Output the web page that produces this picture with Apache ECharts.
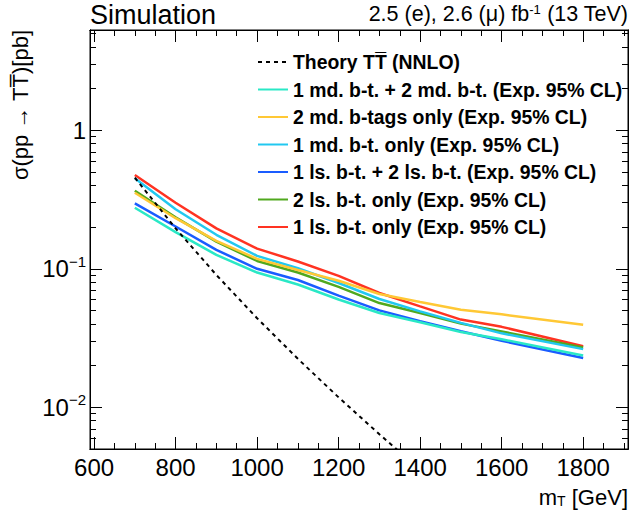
<!DOCTYPE html>
<html><head><meta charset="utf-8">
<script src="https://cdn.jsdelivr.net/npm/echarts@6/dist/echarts.min.js"></script>
<style>html,body{margin:0;padding:0;background:#fff}#c{width:630px;height:520px}</style>
</head><body><div id="c"></div>
<script>
// ---- data ----
const masses = [700, 800, 900, 1000, 1100, 1200, 1300, 1400, 1500, 1600, 1800];
const theoryMasses = [700, 800, 900, 1000, 1100, 1200, 1300, 1400, 1500, 1600, 1700, 1800];
const theory = [0.455, 0.196, 0.0903, 0.0440, 0.0224, 0.0118, 0.00639, 0.00354, 0.00200, 0.00115, 0.000666, 0.000391];
const md12 = [0.276, 0.184, 0.126, 0.094, 0.077, 0.060, 0.0480, 0.0411, 0.0350, 0.0310, 0.0237];
const md2  = [0.354, 0.232, 0.159, 0.118, 0.098, 0.082, 0.0658, 0.0576, 0.0507, 0.0469, 0.0394];
const md1  = [0.450, 0.269, 0.176, 0.124, 0.101, 0.079, 0.0605, 0.0493, 0.0407, 0.0342, 0.0263];
const ls12 = [0.297, 0.202, 0.137, 0.100, 0.083, 0.064, 0.0501, 0.0418, 0.0354, 0.0302, 0.0227];
const ls2  = [0.366, 0.235, 0.157, 0.114, 0.094, 0.074, 0.0566, 0.0480, 0.0402, 0.0353, 0.0270];
const ls1  = [0.475, 0.300, 0.196, 0.140, 0.113, 0.089, 0.0669, 0.0535, 0.0430, 0.0381, 0.0276];
const seriesNames = [
  'Theory TT\u0305 (NNLO)',
  '1 md. b-t. + 2 md. b-t. (Exp. 95% CL)',
  '2 md. b-tags only (Exp. 95% CL)',
  '1 md. b-t. only (Exp. 95% CL)',
  '1 ls. b-t. + 2 ls. b-t. (Exp. 95% CL)',
  '2 ls. b-t. only (Exp. 95% CL)',
  '1 ls. b-t. only (Exp. 95% CL)'
];
const xTickLabels = [600, 800, 1000, 1200, 1400, 1600, 1800];
const yTickLabels = [0.01, 0.1, 1];

// ---- styling ----
const FONT = '"Liberation Sans", Arial, Helvetica, sans-serif';
const colors = ['#000000', '#2ae8c6', '#ffc835', '#22c8f0', '#1a5cff', '#50a81e', '#ff3322'];
const xMinor = [];
for (let v = 600; v <= 1900; v += 50) if (v % 200 !== 0) xMinor.push(v);
const yMinor = [];
[0.001, 0.01, 0.1, 1].forEach(d => { for (let k = 2; k <= 9; k++) { const v = +(k * d).toPrecision(3); if (v >= 0.005 && v <= 5.3) yMinor.push(v); } });
const X_MIN = 590, X_MAX = 1910, Y_MIN = 0.005, Y_MAX = 5.3;

function xAx(pos, vals, len, labels) {
  return {
    type: 'value', min: X_MIN, max: X_MAX, position: pos, gridIndex: 0,
    axisLine: { show: true, onZero: false, lineStyle: { color: '#000', width: 1 } },
    axisTick: { show: true, inside: true, length: len, customValues: vals, lineStyle: { color: '#000', width: 1 } },
    axisLabel: labels ? { show: true, customValues: vals, color: '#000', fontSize: 24, fontFamily: FONT, margin: 6, formatter: v => String(Math.round(v)) } : { show: false },
    splitLine: { show: false }, minorTick: { show: false }
  };
}
function yAx(pos, vals, len, labels) {
  return {
    type: 'log', logBase: 10, min: Y_MIN, max: Y_MAX, position: pos, gridIndex: 0,
    axisLine: { show: true, onZero: false, lineStyle: { color: '#000', width: 1 } },
    axisTick: { show: true, inside: true, length: len, customValues: vals, lineStyle: { color: '#000', width: 1 } },
    axisLabel: labels ? {
      show: true, customValues: vals, color: '#000', fontFamily: FONT, margin: 4,
      formatter: v => { const e = Math.round(Math.log10(v)); return e === 0 ? '{b|1}' : '{b|10}{s|\u2212' + (-e) + '}'; },
      rich: { b: { fontSize: 24, fontFamily: FONT, color: '#000', lineHeight: 30 },
              s: { fontSize: 15, fontFamily: FONT, color: '#000', verticalAlign: 'top', lineHeight: 16 } }
    } : { show: false },
    splitLine: { show: false }, minorTick: { show: false }
  };
}

const seriesData = [
  theoryMasses.map((m, i) => [m, theory[i]]),
  masses.map((m, i) => [m, md12[i]]),
  masses.map((m, i) => [m, md2[i]]),
  masses.map((m, i) => [m, md1[i]]),
  masses.map((m, i) => [m, ls12[i]]),
  masses.map((m, i) => [m, ls2[i]]),
  masses.map((m, i) => [m, ls1[i]])
];

const series = seriesNames.map((name, i) => ({
  name, type: 'line', xAxisIndex: 0, yAxisIndex: 0, data: seriesData[i],
  symbol: 'none', smooth: false, clip: true, animation: false,
  z: i === 0 ? 3 : 2 + (7 - i) * 0.01,
  lineStyle: i === 0 ? { color: '#000', width: 2, type: [4, 4] } : { color: colors[i], width: 2.5 },
  itemStyle: { color: colors[i] }
}));

const chart = echarts.init(document.getElementById('c'), null, { renderer: 'svg', width: 630, height: 520 });
chart.setOption({
  animation: false,
  backgroundColor: '#fff',
  grid: { left: 90, right: 2, top: 30, bottom: 71, show: true, borderColor: '#000', borderWidth: 1, containLabel: false },
  xAxis: [xAx('bottom', xTickLabels, 12, true), xAx('bottom', xMinor, 6, false), xAx('top', xTickLabels, 12, false), xAx('top', xMinor, 6, false)],
  yAxis: [yAx('left', yTickLabels, 12, true), yAx('left', yMinor, 6, false), yAx('right', yTickLabels, 12, false), yAx('right', yMinor, 6, false)],
  legend: {
    orient: 'vertical', left: 257, top: 52, padding: 0, itemWidth: 30, itemHeight: 14, itemGap: 7.5,
    data: seriesNames,
    itemStyle: { color: 'rgba(0,0,0,0)', borderWidth: 0, opacity: 0 },
    textStyle: { fontSize: 19.4, fontWeight: 'bold', fontFamily: FONT, color: '#000', lineHeight: 20 }
  },
  graphic: [
    { type: 'text', x: 90, y: 15, style: { text: 'Simulation', font: '27px ' + FONT, fill: '#000', align: 'left', verticalAlign: 'middle' } },
    { type: 'text', x: 628, y: 14, style: { text: '2.5 (e), 2.6 (\u03bc) fb{sup|-1} (13 TeV)', fontSize: 21.5, fontFamily: FONT, fill: '#000', align: 'right', verticalAlign: 'middle',
        rich: { sup: { fontSize: 13, fontFamily: FONT, verticalAlign: 'top', lineHeight: 14 } } } },
    { type: 'text', x: 20, y: 30, rotation: Math.PI / 2, style: { text: '\u03c3(pp \u2192 TT\u0305)[pb]', fontSize: 22, fontFamily: FONT, fill: '#000', align: 'right', verticalAlign: 'middle' } },
    { type: 'text', x: 628, y: 497, style: { text: 'm{sub|T} [GeV]', fontSize: 22, fontFamily: FONT, fill: '#000', align: 'right', verticalAlign: 'middle',
        rich: { sub: { fontSize: 14, fontFamily: FONT, verticalAlign: 'bottom', lineHeight: 14 } } } }
  ],
  series
});
</script></body></html>
